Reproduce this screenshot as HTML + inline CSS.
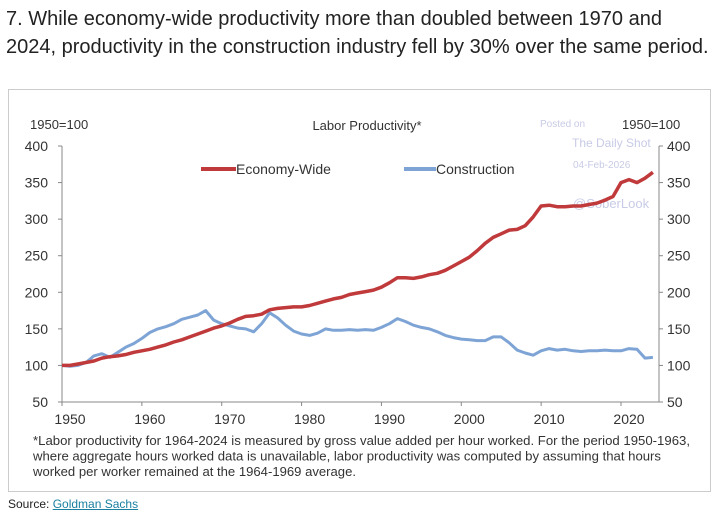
<!DOCTYPE html>
<html><head><meta charset="utf-8"><style>
body{margin:0;width:717px;height:526px;background:#fff;font-family:"Liberation Sans",Arial,sans-serif;overflow:hidden;position:relative}
.t{position:absolute;left:6px;top:5px;font-size:20px;line-height:28px;color:#222;white-space:nowrap}
.box{position:absolute;left:8px;top:89px;width:703px;height:403px;border:1px solid #ccc;box-sizing:border-box}
.src{position:absolute;left:8px;top:497px;font-size:12px;color:#222}
.src a{color:#1a7fa0;text-decoration:underline}
svg{position:absolute;left:0;top:0}
</style></head><body>
<div class="t">7. While economy-wide productivity more than doubled between 1970 and<br>2024, productivity in the construction industry fell by 30% over the same period.</div>
<div class="box"></div>
<svg id="c" width="717" height="526"></svg>
<div class="src">Source: <a>Goldman Sachs</a></div>
<script>
const years=[];for(let y=1950;y<=2024;y++)years.push(y);
const economy=[100,100,102,104,106,110,112,113,115,118,120,122,125,128,132,135,139,143,147,151,154,158,163,167,168,170,176,178,179,180,180,182,185,188,191,193,197,199,201,203,207,213,220,220,219,221,224,226,230,236,242,248,257,267,275,280,285,286,291,303,318,319,317,317,318,318,320,322,326,331,350,354,350,356,364];
const construction=[100,99,100,104,113,116,111,118,125,130,137,145,150,153,157,163,166,169,175,162,157,154,151,150,146,157,172,165,155,147,143,141,144,150,148,148,149,148,149,148,152,157,164,160,155,152,150,146,141,138,136,135,134,134,139,139,131,121,117,114,120,123,121,122,120,119,120,120,121,120,120,123,122,110,111];
const yTicks=[50,100,150,200,250,300,350,400];
const xTicks=[1950,1960,1970,1980,1990,2000,2010,2020];
const X=v=>62+(v-1950)*(621-62)/70;
const Y=v=>402-(v-50)*(402-146)/350;
const svg=document.getElementById('c');const NS='http://www.w3.org/2000/svg';
function el(t,a,txt){const e=document.createElementNS(NS,t);for(const k in a)e.setAttribute(k,a[k]);if(txt!=null)e.textContent=txt;svg.appendChild(e);return e;}
let e;
e=el('line',{x1:62,y1:146,x2:62,y2:402,stroke:'#888'});
e=el('line',{x1:659,y1:146,x2:659,y2:402,stroke:'#888'});
e=el('line',{x1:62,y1:402,x2:659,y2:402,stroke:'#888'});
yTicks.forEach(v=>{
 el('line',{x1:58,x2:62,y1:Y(v),y2:Y(v),stroke:'#888'});el('line',{x1:659,x2:663,y1:Y(v),y2:Y(v),stroke:'#888'});
 e=el('text',{x:48,y:Y(v)+5,'text-anchor':'end','font-size':14,fill:'#333'},v);
 e=el('text',{x:667,y:Y(v)+5,'font-size':14,fill:'#333'},v);
});
xTicks.forEach(v=>{
 el('line',{x1:X(v),x2:X(v),y1:402,y2:406,stroke:'#888'});
 e=el('text',{x:X(v)+8,y:424,'text-anchor':'middle','font-size':14,fill:'#333'},v);
});
e=el('text',{x:30,y:129,'font-size':13,fill:'#333'},'1950=100');
e=el('text',{x:622,y:129,'font-size':13,fill:'#333'},'1950=100');
e=el('text',{x:367,y:130,'text-anchor':'middle','font-size':13,fill:'#333'},'Labor Productivity*');
[['Posted on',540,127,10],['The Daily Shot',572,147,12],['04-Feb-2026',573,168,10],['@SoberLook',573,208,13]].forEach(w=>{e=el('text',{x:w[1],y:w[2],'font-size':w[3],fill:'#c8cbe6'},w[0]);});
function path(d){return d.map((v,i)=>(i?'L':'M')+X(years[i]).toFixed(1)+' '+Y(v).toFixed(1)).join('');}
e=el('path',{d:path(construction),fill:'none',stroke:'#7ea4d6','stroke-width':3,'stroke-linejoin':'round'});
e=el('path',{d:path(economy),fill:'none',stroke:'#c0393b','stroke-width':3.5,'stroke-linejoin':'round'});
e=el('line',{x1:201,x2:236,y1:169,y2:169,stroke:'#c0393b','stroke-width':4});
e=el('text',{x:236,y:174,'font-size':14,fill:'#333'},'Economy-Wide');
e=el('line',{x1:404,x2:436,y1:169,y2:169,stroke:'#7ea4d6','stroke-width':4});
e=el('text',{x:436,y:174,'font-size':14,fill:'#333'},'Construction');
[['*Labor productivity for 1964-2024 is measured by gross value added per hour worked. For the period 1950-1963,',657],['where aggregate hours worked data is unavailable, labor productivity was computed by assuming that hours',628],['worked per worker remained at the 1964-1969 average.',323]].forEach((s,i)=>{e=el('text',{x:33,y:445+i*15.5,'font-size':12.5,fill:'#333',textLength:s[1],lengthAdjust:'spacingAndGlyphs'},s[0]);});
</script>
</body></html>
